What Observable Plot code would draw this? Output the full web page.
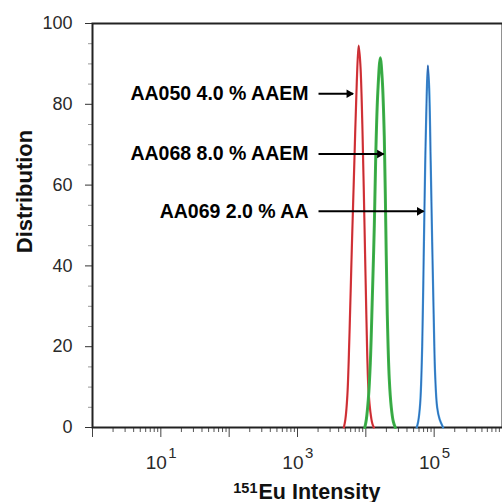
<!DOCTYPE html>
<html>
<head>
<meta charset="utf-8">
<script src="https://cdn.jsdelivr.net/npm/d3@7"></script>
<script src="https://cdn.jsdelivr.net/npm/@observablehq/plot@0.6"></script>
<style>
  html, body { margin: 0; padding: 0; background: #fff; }
  #chart { width: 502px; height: 502px; overflow: hidden; }
</style>
</head>
<body>
<div id="chart"></div>
<script>
// ---- Data ----
const redIntensity   = [4770, 5020, 5370, 5740, 6250, 6800, 7390, 7850, 8310, 8890, 9510, 10170, 10880, 11630, 12440, 13090];
const redDistribution = [0, 2, 8, 22, 45, 66, 86, 94.5, 90, 75, 52, 28, 10, 4, 1, 0];

const greenIntensity   = [9670, 10170, 10880, 11630, 12440, 13310, 14000, 14970, 16280, 17410, 18620, 19590, 20600, 22030, 23570, 25200, 26960];
const greenDistribution = [0, 2, 7, 16, 32, 50, 68, 83, 91.5, 86, 72, 50, 28, 12, 5, 1.5, 0];

const blueIntensity   = [55540, 58410, 62460, 66800, 70250, 73890, 77710, 80910, 84530, 88900, 93500, 98330, 103400, 110600, 120300, 135300];
const blueDistribution = [0, 1.5, 6, 20, 42, 65, 82, 89.6, 84, 66, 46, 28, 13, 5, 2, 0];

const annotationLabels = ["AA050 4.0 % AAEM", "AA068 8.0 % AAEM", "AA069 2.0 % AA"];
const annotationDist   = [82.6, 67.7, 53.5];
const arrowStart       = 2030;
const arrowTips        = [6500, 18200, 69800];

const yTicks      = [0, 20, 40, 60, 80, 100];
const yMinorTicks = [5, 10, 15, 25, 30, 35, 45, 50, 55, 65, 70, 75, 85, 90, 95];
const xMajorTicks = [1, 10, 100, 1000, 10000, 100000, 1000000];
const xLabelExponents = [1, 3, 5];
const xTitle = "Eu Intensity";
const xTitleSup = "151";
const yTitle = "Distribution";

// ---- Build tables ----
const zip = (xs, ys) => xs.map((x, i) => ({x, y: ys[i]}));
const red = zip(redIntensity, redDistribution);
const green = zip(greenIntensity, greenDistribution);
const blue = zip(blueIntensity, blueDistribution);
const annotations = annotationLabels.map((label, i) => ({label, y: annotationDist[i], x1: arrowStart, x2: arrowTips[i]}));
const xMinorTicks = [];
for (let e = 0; e < 6; e++) for (let m = 2; m <= 9; m++) xMinorTicks.push(m * 10 ** e);
const xLabelTicks = xLabelExponents.map(e => ({v: 10 ** e, e: String(e)}));

const font = "'Liberation Sans', Arial, Helvetica, sans-serif";

const chart = Plot.plot({
  width: 502,
  height: 502,
  marginLeft: 92,
  marginRight: 0,
  marginTop: 23,
  marginBottom: 75,
  style: {fontFamily: font, background: "#fff"},
  x: {type: "log", domain: [1, 1e6]},
  y: {domain: [0, 100]},
  marks: [
    // axes
    Plot.axisY({ticks: yMinorTicks, tickSize: 4, tickFormat: () => "", label: null, stroke: "#999"}),
    Plot.axisY({ticks: yTicks, tickSize: 7, tickPadding: 13, fontSize: 18, color: "#2a2a2a", label: null, stroke: "#333"}),
    Plot.axisX({ticks: xMinorTicks, tickSize: 5, tickFormat: () => "", label: null, stroke: "#555"}),
    Plot.axisX({ticks: xMajorTicks, tickSize: 10, tickFormat: () => "", label: null, stroke: "#444"}),
    Plot.frame({stroke: "#222", strokeWidth: 2}),
    // x tick labels: 10 with superscript exponent
    Plot.text(xLabelTicks, {x: "v", frameAnchor: "bottom", text: () => "10", textAnchor: "end", lineAnchor: "bottom", dx: 6, dy: 41, fontSize: 19, fill: "#2a2a2a"}),
    Plot.text(xLabelTicks, {x: "v", frameAnchor: "bottom", text: "e", textAnchor: "start", lineAnchor: "bottom", dx: 7.5, dy: 30, fontSize: 15, fill: "#2a2a2a"}),
    // axis titles
    Plot.text([xTitle], {frameAnchor: "bottom", text: d => d, textAnchor: "start", lineAnchor: "bottom", dx: -39, dy: 71, fontSize: 21.5, fontWeight: "bold", fill: "#111"}),
    Plot.text([xTitleSup], {frameAnchor: "bottom", text: d => d, textAnchor: "end", lineAnchor: "bottom", dx: -40, dy: 65, fontSize: 14.5, fontWeight: "bold", fill: "#111"}),
    Plot.text([yTitle], {frameAnchor: "left", text: d => d, rotate: -90, textAnchor: "middle", lineAnchor: "bottom", dx: -61, dy: -34, fontSize: 22, fontWeight: "bold", fill: "#111"}),
    // curves
    Plot.line(red, {x: "x", y: "y", stroke: "#e8363d", strokeWidth: 2.2, curve: "catmull-rom"}),
    Plot.line(red, {x: "x", y: "y", stroke: "#6b2424", strokeWidth: 0.7, strokeOpacity: 0.55, curve: "catmull-rom"}),
    Plot.line(green, {x: "x", y: "y", stroke: "#3cb34a", strokeWidth: 3, curve: "catmull-rom"}),
    Plot.line(green, {x: "x", y: "y", stroke: "#2b7a30", strokeWidth: 0.7, strokeOpacity: 0.5, curve: "catmull-rom"}),
    Plot.line(blue, {x: "x", y: "y", stroke: "#3d9be0", strokeWidth: 2.2, curve: "catmull-rom"}),
    Plot.line(blue, {x: "x", y: "y", stroke: "#2a2f7a", strokeWidth: 0.8, strokeOpacity: 0.6, curve: "catmull-rom"}),
    // annotations
    Plot.text(annotations, {x: "x1", y: "y", text: "label", textAnchor: "end", dx: -10, fontSize: 19.5, fontWeight: "bold", fill: "#000"}),
    Plot.link(annotations, {x1: "x1", x2: "x2", y1: "y", y2: "y", stroke: "#000", strokeWidth: 2}),
    Plot.dot(annotations, {x: "x2", y: "y", symbol: "triangle", r: 3.2, rotate: 90, fill: "#000", stroke: "none", dx: -4})
  ]
});
document.getElementById("chart").appendChild(chart);
</script>
</body>
</html>
